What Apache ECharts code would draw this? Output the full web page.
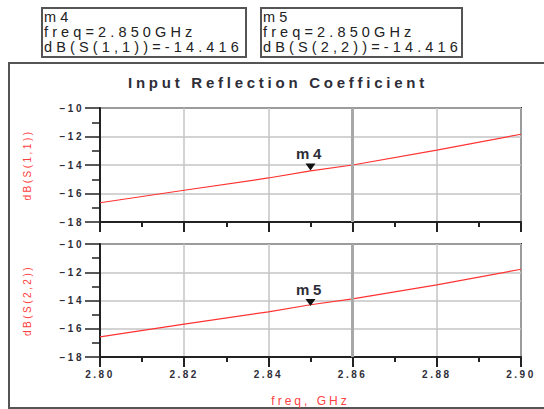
<!DOCTYPE html>
<html>
<head>
<meta charset="utf-8">
<script src="https://cdn.jsdelivr.net/npm/echarts@6/dist/echarts.min.js"></script>
<style>
html,body{margin:0;padding:0;background:#fff;}
#chart{width:544px;height:409px;}
#chart svg text{letter-spacing:0.25em;}
#chart svg text[style*="14.5px"]{letter-spacing:0.285em;}
</style>
</head>
<body>
<div id="chart"></div>
<script>
// ---- data ----
var freqs = [2.80, 2.82, 2.84, 2.85, 2.86, 2.88, 2.90];
var s11 = [-16.65, -15.77, -14.91, -14.416, -14.00, -12.95, -11.84];
var s22 = [-16.57, -15.67, -14.80, -14.30, -13.88, -12.90, -11.79];
var yTicks = [-18, -16, -14, -12, -10];
var xTicks = [2.80, 2.82, 2.84, 2.86, 2.88, 2.90];
var markerNames = ['m4', 'm5'];
var markerFreq = 2.850;
var markerValues = [-14.416, -14.416];
var traceNames = ['dB(S(1,1))', 'dB(S(2,2))'];
var cursorFreq = 2.86;
var titleText = 'Input Reflection Coefficient';
var xAxisName = 'freq, GHz';

var TXT = '#2e2e38';
var FONT = 'Liberation Sans, Arial, sans-serif';

function pairs(xs, ys){ return xs.map(function(x,i){ return [x, ys[i]]; }); }

function xAxisCfg(idx, showLabels){
  return {
    type:'value', gridIndex: idx, min: xTicks[0], max: xTicks[xTicks.length-1], interval: 0.02,
    name: showLabels ? xAxisName : '', nameLocation:'middle', nameGap: 38,
    nameTextStyle:{color:'#ff4040', fontSize:12, fontFamily:FONT},
    axisLine:{show:true, onZero:false, lineStyle:{color:'#222', width:2}},
    axisTick:{show:true, inside:false, length:10, lineStyle:{color:'#222', width:2}},
    minorTick:{show:true, splitNumber:2, length:5, lineStyle:{color:'#222', width:2}},
    axisLabel:{show: showLabels, margin: 12, color:TXT, fontSize:10, fontWeight:'bold', fontFamily:FONT,
      formatter:function(v){ return v.toFixed(2); }},
    splitLine:{show:true, lineStyle:{color:'#c4c4c4', width:1.5}}
  };
}
function yAxisCfg(idx){
  return {
    type:'value', gridIndex: idx, min: yTicks[0], max: yTicks[yTicks.length-1], interval: 2,
    name: traceNames[idx], nameLocation:'middle', nameGap: 68, nameRotate: 90,
    nameTextStyle:{color:'#ff4040', fontSize:10, fontFamily:FONT},
    axisLine:{show:true, lineStyle:{color:'#222', width:2}},
    axisTick:{show:true, inside:false, length:15, lineStyle:{color:'#222', width:1.5}},
    minorTick:{show:true, splitNumber:2, length:8, lineStyle:{color:'#222', width:1.5}},
    axisLabel:{margin: 16, color:TXT, fontSize:10, fontWeight:'bold', fontFamily:FONT,
      formatter:function(v){ return '\u2212' + Math.abs(v); }},
    splitLine:{show:true, lineStyle:{color:'#c4c4c4', width:1.5}}
  };
}
function seriesCfg(idx, vals){
  return {
    type:'line', xAxisIndex: idx, yAxisIndex: idx, data: pairs(freqs, vals),
    showSymbol:false, smooth:false, silent:true,
    lineStyle:{color:'#ff3333', width:1.2},
    markLine:{silent:true, symbol:['none','none'], label:{show:false},
      lineStyle:{color:'#a8a8a8', width:3, type:'solid'},
      data:[{xAxis: cursorFreq}]},
    markPoint:{silent:true, data:[{coord:[markerFreq, markerValues[idx]],
      symbol:'triangle', symbolRotate:180, symbolSize:[10,7], symbolOffset:[0,-4],
      itemStyle:{color:'#111'},
      label:{show:true, position:'top', distance:2, formatter: markerNames[idx],
        color:TXT, fontSize:15, fontWeight:'bold', fontFamily:FONT}}]}
  };
}
function boxLines(i){
  return [markerNames[i], 'freq=' + markerFreq.toFixed(3) + 'GHz', traceNames[i] + '=' + markerValues[i].toFixed(3)];
}
function boxGraphics(i, x){
  var g = [{type:'rect', shape:{x:x, y:8, width:(i === 0 ? 204 : 201), height:49},
    style:{fill:'#fff', stroke:'#555', lineWidth:2}}];
  boxLines(i).forEach(function(t, k){
    g.push({type:'text', x:x+2, y:17 + k*15, style:{text:t, fill:'#222', font:'14.5px ' + FONT,
      verticalAlign:'middle'}});
  });
  return g;
}

var chart = echarts.init(document.getElementById('chart'), null, {renderer:'svg'});
chart.setOption({
  animation:false,
  backgroundColor:'#fff',
  grid:[
    {left:100, top:108, width:421, height:114, show:true, borderColor:'#222', borderWidth:2, backgroundColor:'transparent'},
    {left:100, top:244, width:421, height:113, show:true, borderColor:'#222', borderWidth:2, backgroundColor:'transparent'}
  ],
  xAxis:[xAxisCfg(0,false), xAxisCfg(1,true)],
  yAxis:[yAxisCfg(0), yAxisCfg(1)],
  series:[seriesCfg(0, s11), seriesCfg(1, s22)],
  graphic:[
    {type:'rect', z:-10, shape:{x:9, y:63, width:560, height:345}, style:{fill:'#fff', stroke:'#555', lineWidth:2}},
    {type:'text', z:10, x:278, y:82, style:{text:titleText, align:'center', verticalAlign:'middle',
      fill:TXT, font:'bold 15px ' + FONT}}
  ].concat(boxGraphics(0, 42)).concat(boxGraphics(1, 261))
});
</script>
</body>
</html>
